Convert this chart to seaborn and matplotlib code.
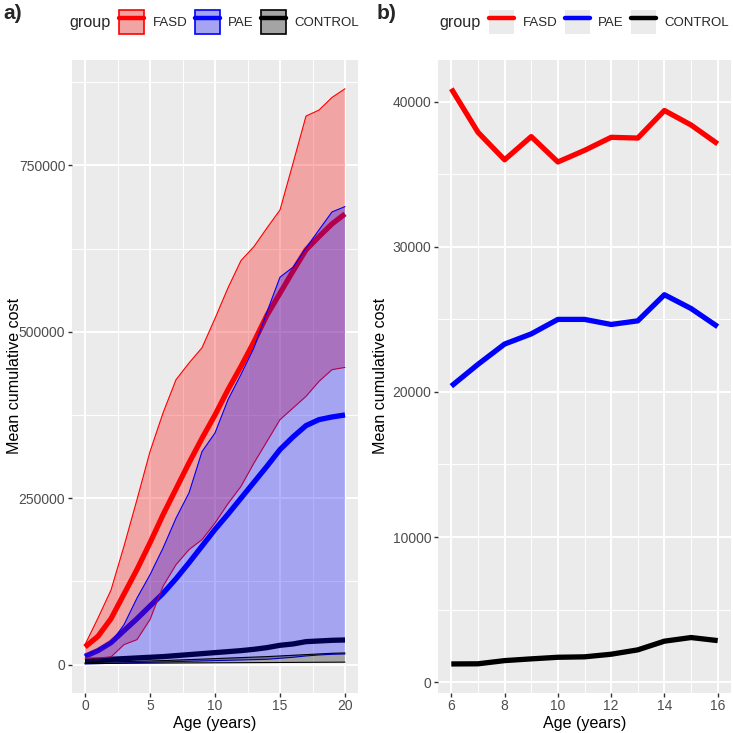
import numpy as np
import pandas as pd
import matplotlib
matplotlib.use("Agg")
import matplotlib.pyplot as plt
from matplotlib.patches import Patch
from matplotlib.lines import Line2D
from matplotlib.ticker import MultipleLocator, FixedLocator
import seaborn as sns

""" Data read off the figure """

groups = ["FASD", "PAE", "CONTROL"]
palette = {"FASD": "#FF0000", "PAE": "#0000FF", "CONTROL": "#000000"}

# a) cumulative cost from age 0 to 20 (mean + band)
age_a = list(range(0, 21))
fasd_mean = [26500, 42500, 69000, 106000, 143000, 183000, 225000, 264000, 303000, 340000, 375000,
             413000, 448000, 485000, 525000, 558000, 591000, 623000, 643000, 662000, 677000]
fasd_low = [10000, 10000, 11500, 30000, 37500, 67600, 117600, 150000, 172700, 187700, 212700,
            241700, 267700, 302800, 335300, 367900, 385400, 402900, 425400, 443000, 446400]
fasd_high = [30000, 70000, 112000, 178000, 248000, 320000, 378000, 428000, 453000, 476000, 520000,
             566000, 607000, 628000, 656000, 683000, 753000, 824000, 833000, 852000, 865000]
pae_mean = [12500, 21000, 33000, 51000, 69000, 88000, 107000, 129000, 153000, 178000, 203000,
            226000, 250000, 274000, 298000, 323000, 342000, 359000, 368000, 372000, 375000]
pae_low = [1000, 1500, 2000, 2500, 3000, 3500, 4000, 4500, 5000, 5500, 6000,
           6500, 7000, 7500, 8000, 9500, 11000, 13000, 14500, 15500, 16000]
pae_high = [13500, 22500, 33000, 60000, 100000, 135000, 175000, 220000, 258000, 320000, 348000,
            398000, 436000, 476000, 530000, 582000, 597000, 626000, 653000, 680000, 688000]
ctrl_mean = [5000, 6500, 8000, 9000, 10000, 11000, 12000, 13500, 15000, 16500, 18000,
             19500, 21000, 23000, 25500, 29000, 31000, 34500, 35500, 36500, 37000]
ctrl_low = [1500, 1600, 1800, 2000, 2100, 2200, 2300, 2400, 2500, 2600, 2700,
            2800, 2900, 3000, 3100, 3200, 3300, 3400, 3500, 3600, 3700]
ctrl_high = [3000, 3500, 4000, 4500, 5000, 5500, 6000, 6800, 7500, 8200, 9000,
             9800, 10500, 11300, 12000, 13000, 14000, 15000, 16000, 17000, 17500]

# b) mean cost from age 6 to 16
age_b = list(range(6, 17))
fasd_b = [40900, 37900, 36000, 37600, 35850, 36650, 37550, 37500, 39400, 38400, 37100]
pae_b = [20400, 21900, 23300, 24000, 25000, 25000, 24650, 24900, 26700, 25750, 24500]
ctrl_b = [1250, 1260, 1480, 1600, 1710, 1740, 1920, 2220, 2820, 3070, 2860]

df_a = pd.DataFrame({"age": age_a * 3,
                     "cost": fasd_mean + pae_mean + ctrl_mean,
                     "group": ["FASD"] * 21 + ["PAE"] * 21 + ["CONTROL"] * 21})
df_b = pd.DataFrame({"age": age_b * 3,
                     "cost": fasd_b + pae_b + ctrl_b,
                     "group": ["FASD"] * 11 + ["PAE"] * 11 + ["CONTROL"] * 11})
bands = {"FASD": (fasd_low, fasd_high), "PAE": (pae_low, pae_high), "CONTROL": (ctrl_low, ctrl_high)}

""" Style (ggplot grey look) """

sns.set_theme(style="darkgrid", rc={"axes.facecolor": "#EBEBEB", "figure.facecolor": "white"})
plt.rcParams["font.family"] = ["Liberation Sans", "DejaVu Sans"]

BG = "#EBEBEB"
W, H = 733, 733
fig = plt.figure(figsize=(7.33, 7.33), dpi=100)
ax1 = fig.add_axes([72 / W, 1 - 692.7 / H, 286 / W, 632.7 / H])
ax2 = fig.add_axes([438 / W, 1 - 692.7 / H, 293 / W, 632.7 / H])


def style_axis(ax):
    ax.set_facecolor(BG)
    for s in ax.spines.values():
        s.set_visible(False)
    ax.grid(which="major", color="white", lw=1.4)
    ax.grid(which="minor", color="white", lw=0.7)
    ax.set_axisbelow(True)
    ax.tick_params(which="major", length=3, width=1, color="#333333", labelcolor="#4D4D4D",
                   labelsize=10, pad=1.8, bottom=True, left=True)
    ax.tick_params(which="minor", length=0)
    ax.set_xlabel("Age (years)", fontsize=11.6, color="black")
    ax.set_ylabel("Mean cumulative cost", fontsize=11.6, color="black")
    ax.xaxis.set_label_coords(0.5, -0.037)
    ax.ticklabel_format(axis="y", style="plain", useOffset=False)


# panel a: mean lines first, bands drawn over them
sns.lineplot(data=df_a, x="age", y="cost", hue="group", hue_order=groups, palette=palette,
             lw=3.8, legend=False, ax=ax1, zorder=2, solid_capstyle="butt")
for i, g in enumerate(groups):
    lo, hi = bands[g]
    ax1.fill_between(age_a, lo, hi, facecolor=palette[g], alpha=0.3, edgecolor="none", zorder=3 + i)
    ax1.plot(age_a, lo, color=palette[g], lw=0.8, zorder=3 + i)
    ax1.plot(age_a, hi, color=palette[g], lw=0.8, zorder=3 + i)

ax1.set_xlim(-1, 21)
ax1.set_ylim(-42200, 908200)
ax1.xaxis.set_major_locator(FixedLocator([0, 5, 10, 15, 20]))
ax1.xaxis.set_minor_locator(FixedLocator([2.5, 7.5, 12.5, 17.5]))
ax1.yaxis.set_major_locator(FixedLocator([0, 250000, 500000, 750000]))
ax1.yaxis.set_minor_locator(FixedLocator([125000, 375000, 625000, 875000]))
style_axis(ax1)
ax1.yaxis.set_label_coords(-0.175, 0.5)

# panel b
sns.lineplot(data=df_b, x="age", y="cost", hue="group", hue_order=groups, palette=palette,
             lw=3.8, legend=False, ax=ax2, solid_capstyle="butt")
ax2.set_xlim(5.5, 16.5)
ax2.set_ylim(-732, 42880)
ax2.xaxis.set_major_locator(MultipleLocator(2))
ax2.xaxis.set_minor_locator(FixedLocator([7, 9, 11, 13, 15]))
ax2.yaxis.set_major_locator(MultipleLocator(10000))
ax2.yaxis.set_minor_locator(FixedLocator([5000, 15000, 25000, 35000]))
style_axis(ax2)
ax2.yaxis.set_label_coords(-0.171, 0.5)

""" Legends along the top """

leg_y = 1 - 22 / H
fig.text(69 / W, leg_y, "group", fontsize=11.6, va="center", ha="left")
fig.text(439 / W, leg_y, "group", fontsize=11.6, va="center", ha="left")

h_a = [(Patch(facecolor=BG, edgecolor="none"),
        Patch(facecolor=palette[g], alpha=0.3, edgecolor="none"),
        Patch(facecolor="none", edgecolor=palette[g], lw=1.2),
        Line2D([], [], color=palette[g], lw=3.2)) for g in groups]
h_b = [(Patch(facecolor=BG, edgecolor="none"),
        Line2D([], [], color=palette[g], lw=3.2)) for g in groups]

leg_kw = dict(ncol=3, frameon=False, fontsize=9.5, handlelength=1.9, handleheight=2.45,
              handletextpad=0.65, columnspacing=0.55, borderpad=0, borderaxespad=0, loc="center left")
fig.legend(h_a, groups, bbox_to_anchor=(119 / W, leg_y), **leg_kw)
fig.legend(h_b, groups, bbox_to_anchor=(489 / W, leg_y), **leg_kw)

fig.text(3 / W, 1 - 4 / H, "a)", fontsize=15, fontweight="bold", va="top", ha="left")
fig.text(377 / W, 1 - 4 / H, "b)", fontsize=15, fontweight="bold", va="top", ha="left")

fig.savefig("out.png", dpi=100)
